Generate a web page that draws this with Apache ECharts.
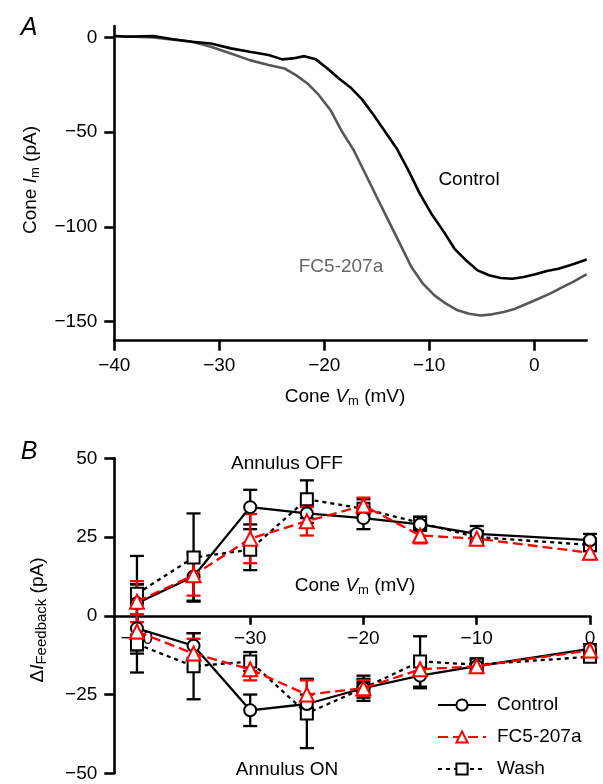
<!DOCTYPE html>
<html>
<head>
<meta charset="utf-8">
<script src="https://cdn.jsdelivr.net/npm/echarts@6/dist/echarts.min.js"></script>
<style>
html,body{margin:0;padding:0;background:#fff;}
#c{width:603px;height:784px;}
</style>
</head>
<body>
<div id="c"></div>
<script>
// ---------- Panel A data (Cone Im vs Cone Vm) ----------
const ctrlV = [-40,-38.8,-36.3,-34.4,-32.6,-30.8,-28.9,-27.1,-25.3,-24,-23,-21.9,-20.8,-19.7,-18.6,-17.5,-16.4,-15.3,-14.2,-13.1,-12,-10.9,-9.8,-8.7,-7.6,-6.5,-5.4,-4.3,-3.2,-2.1,-1,0.1,1.2,2.3,3.4,4.8,5];
const ctrlI = [0.7,0.3,0.7,-1,-2.3,-3.2,-5.8,-7.6,-9.3,-11.6,-11.1,-9.9,-11.6,-16.4,-21.7,-26.4,-32.7,-41,-49.8,-58.6,-70,-82.4,-93,-101.8,-111.4,-117.6,-122.9,-125.5,-126.9,-127.3,-126.4,-125,-123.2,-122,-120.2,-117.6,-117];
const fcV = [-40,-36.3,-32.6,-30.8,-28.9,-27.1,-25.3,-23.8,-22.7,-21.6,-20.5,-19.4,-18.3,-17.2,-16.1,-15,-13.9,-12.8,-11.7,-10.6,-9.5,-8.4,-7.3,-6.2,-5.1,-4,-2.9,-1.8,-0.7,0.4,1.5,2.6,3.7,4.8,5];
const fcI = [0.7,0,-2.3,-4.9,-8.5,-12,-14.6,-16.4,-19.9,-24.3,-30.5,-38.4,-49.8,-59.5,-71.8,-84.2,-96.5,-108.8,-121.1,-129.9,-136.1,-140.5,-144,-145.8,-146.7,-146.1,-144.9,-143.1,-140.5,-137.9,-135.2,-132,-129,-125.5,-125];
const aXTicks = [-40,-30,-20,-10,0];
const aYTicks = [0,-50,-100,-150];

// ---------- Panel B data (ΔI Feedback vs Cone Vm) ----------
const bV = [-40,-35,-30,-25,-20,-15,-10,0];
const ctrlOff    = [4,12.5,34.5,32.5,31,29,26,24];
const ctrlOffErr = [15,7.7,5.5,3,3.5,2,2.5,2];
const fcOff      = [4.5,12.9,24.5,30,35,25.5,24.5,20];
const fcOffErr   = [6.5,6.5,7.8,4.5,2.5,2.5,2,2];
const washOff    = [7,18.5,21,37,34,29.5,25,22.5];
const washOffErr = [3,14,6.5,6,3,2,2,2];
const ctrlOn     = [-4,-9.5,-30,-28,-23,-19,-16,-10.5];
const ctrlOnErr  = [14,4,5,3,4,4,2,1.5];
const fcOn       = [-5,-12,-17,-25,-23,-17,-16,-11];
const fcOnErr    = [5.5,4.7,3.5,4.5,2.5,2,1.5,1.5];
const washOn     = [-9,-16,-14.5,-31,-23,-14.5,-15.5,-13];
const washOnErr  = [3,10.5,3,11,3,8,2,1.5];
const bXTicks = [-40,-30,-20,-10,0];

const FONT = '"Liberation Sans", Arial, Helvetica, sans-serif';
const RED = '#ff0000';
const fmt = v => String(v).replace('-', '\u2212');
const zip = (a, b) => a.map((v, i) => [v, b[i]]);

function errSeries(vals, errs, color) {
  return {
    type: 'custom', xAxisIndex: 1, yAxisIndex: 1, silent: true, z: 2,
    encode: {x: 0, y: [1, 2]},
    data: bV.map((v, i) => [v, vals[i] - errs[i], vals[i] + errs[i]]),
    renderItem: function (params, api) {
      const x = api.value(0);
      const top = api.coord([x, api.value(2)]);
      const bot = api.coord([x, api.value(1)]);
      const hw = 7;
      const st = {stroke: color, lineWidth: 2.3};
      return {type: 'group', children: [
        {type: 'line', shape: {x1: top[0], y1: top[1], x2: bot[0], y2: bot[1]}, style: st},
        {type: 'line', shape: {x1: top[0] - hw, y1: top[1], x2: top[0] + hw, y2: top[1]}, style: st},
        {type: 'line', shape: {x1: bot[0] - hw, y1: bot[1], x2: bot[0] + hw, y2: bot[1]}, style: st}
      ]};
    }
  };
}
function lineSeries(name, vals, color, dash, symbol, size, z) {
  return {
    name: name, type: 'line', xAxisIndex: 1, yAxisIndex: 1, z: z,
    data: zip(bV, vals),
    symbol: symbol, symbolSize: size,
    lineStyle: {color: color, width: 2.3, type: dash},
    itemStyle: {color: color, borderWidth: 2.3, borderColor: color}
  };
}

const chart = echarts.init(document.getElementById('c'), null, {renderer: 'canvas'});

// panel B grid geometry: y from -50..50 over 315 px; zero line sits 157.5 px above the bottom
const B_TOP = 458.3, B_H = 315;

const option = {
  animation: false,
  backgroundColor: '#fff',
  grid: [
    {left: 114.3, right: 16.3, top: 26, height: 314.7},
    {left: 114.3, right: 13, top: B_TOP, height: B_H}
  ],
  xAxis: [
    {gridIndex: 0, type: 'value', min: -40, max: 5, position: 'bottom',
     axisLine: {onZero: false, lineStyle: {color: '#000', width: 2.6}},
     axisTick: {length: 10, lineStyle: {color: '#000', width: 2.6}, customValues: aXTicks},
     axisLabel: {color: '#000', fontSize: 19, fontFamily: FONT, formatter: fmt, margin: 16, customValues: aXTicks},
     splitLine: {show: false}},
    {gridIndex: 1, type: 'value', min: -42, max: 0, position: 'bottom', offset: -B_H / 2,
     axisLine: {onZero: false, lineStyle: {color: '#000', width: 2.6}},
     axisTick: {length: 9, lineStyle: {color: '#000', width: 2.6}, customValues: bXTicks},
     axisLabel: {color: '#000', fontSize: 19, fontFamily: FONT, formatter: fmt, margin: 13, customValues: bXTicks},
     splitLine: {show: false}}
  ],
  yAxis: [
    {gridIndex: 0, type: 'value', min: -160, max: 6,
     axisLine: {onZero: false, lineStyle: {color: '#000', width: 2.6}},
     axisTick: {length: 10, lineStyle: {color: '#000', width: 2.6}, customValues: aYTicks},
     axisLabel: {color: '#000', fontSize: 19, fontFamily: FONT, formatter: fmt, margin: 17, customValues: aYTicks},
     splitLine: {show: false}},
    {gridIndex: 1, type: 'value', min: -50, max: 50, interval: 25,
     axisLine: {show: true, onZero: false, lineStyle: {color: '#000', width: 2.6}},
     axisTick: {show: true, length: 10, lineStyle: {color: '#000', width: 2.6}},
     axisLabel: {color: '#000', fontSize: 19, fontFamily: FONT, formatter: fmt, margin: 17},
     splitLine: {show: false}}
  ],
  legend: {
    orient: 'vertical', left: 437, top: 695, padding: 0,
    itemWidth: 48, itemHeight: 14, itemGap: 12,
    data: ['Control', 'FC5-207a', 'Wash'],
    textStyle: {color: '#000', fontSize: 19, fontFamily: FONT, lineHeight: 20, padding: [0, 0, 0, 6]}
  },
  series: [
    {type: 'line', xAxisIndex: 0, yAxisIndex: 0, data: zip(fcV, fcI), showSymbol: false,
     lineStyle: {color: '#575757', width: 2.6}, silent: true},
    {type: 'line', xAxisIndex: 0, yAxisIndex: 0, data: zip(ctrlV, ctrlI), showSymbol: false,
     lineStyle: {color: '#000', width: 2.6}, silent: true},

    errSeries(washOff, washOffErr, '#000'),
    errSeries(washOn, washOnErr, '#000'),
    errSeries(ctrlOff, ctrlOffErr, '#000'),
    errSeries(ctrlOn, ctrlOnErr, '#000'),
    errSeries(fcOff, fcOffErr, RED),
    errSeries(fcOn, fcOnErr, RED),

    lineSeries('Wash', washOff, '#000', [4, 4], 'emptyRect', 12, 3),
    lineSeries('Wash', washOn, '#000', [4, 4], 'emptyRect', 12, 3),
    lineSeries('Control', ctrlOff, '#000', 'solid', 'emptyCircle', 12, 4),
    lineSeries('Control', ctrlOn, '#000', 'solid', 'emptyCircle', 12, 4),
    lineSeries('FC5-207a', fcOff, RED, [10, 5], 'emptyTriangle', 14, 5),
    lineSeries('FC5-207a', fcOn, RED, [10, 5], 'emptyTriangle', 14, 5)
  ],
  graphic: [
    {type: 'text', x: 29, y: 28, style: {text: 'A', fontSize: 25, fontStyle: 'italic', fontFamily: FONT, fill: '#000', align: 'center', verticalAlign: 'middle'}},
    {type: 'text', x: 29, y: 452, style: {text: 'B', fontSize: 25, fontStyle: 'italic', fontFamily: FONT, fill: '#000', align: 'center', verticalAlign: 'middle'}},
    {type: 'text', x: 345, y: 397, style: {
      text: '{n|Cone }{i|V}{s|m}{n| (mV)}', align: 'center', verticalAlign: 'middle',
      rich: {n: {fontSize: 19, fontFamily: FONT, fill: '#000', lineHeight: 22},
             i: {fontSize: 19, fontFamily: FONT, fontStyle: 'italic', fill: '#000', lineHeight: 22},
             s: {fontSize: 13, fontFamily: FONT, fill: '#000', lineHeight: 22, verticalAlign: 'bottom', padding: [10, 0, 0, 0]}}}},
    {type: 'text', x: 31, y: 180, rotation: Math.PI / 2, style: {
      text: '{n|Cone }{i|I}{s|m}{n| (pA)}', align: 'center', verticalAlign: 'middle',
      rich: {n: {fontSize: 19, fontFamily: FONT, fill: '#000', lineHeight: 22},
             i: {fontSize: 19, fontFamily: FONT, fontStyle: 'italic', fill: '#000', lineHeight: 22},
             s: {fontSize: 13, fontFamily: FONT, fill: '#000', lineHeight: 22, verticalAlign: 'bottom', padding: [10, 0, 0, 0]}}}},
    {type: 'text', x: 38, y: 620, rotation: Math.PI / 2, style: {
      text: '{n|\u0394}{i|I}{s|Feedback}{n| (pA)}', align: 'center', verticalAlign: 'middle',
      rich: {n: {fontSize: 19, fontFamily: FONT, fill: '#000', lineHeight: 22},
             i: {fontSize: 19, fontFamily: FONT, fontStyle: 'italic', fill: '#000', lineHeight: 22},
             s: {fontSize: 15, fontFamily: FONT, fill: '#000', lineHeight: 22, verticalAlign: 'bottom', padding: [10, 0, 0, 0]}}}},
    {type: 'text', x: 469, y: 180, style: {text: 'Control', fontSize: 19, fontFamily: FONT, fill: '#000', align: 'center', verticalAlign: 'middle'}},
    {type: 'text', x: 341, y: 267, style: {text: 'FC5-207a', fontSize: 19, fontFamily: FONT, fill: '#666', align: 'center', verticalAlign: 'middle'}},
    {type: 'text', x: 287, y: 464, style: {text: 'Annulus OFF', fontSize: 19, fontFamily: FONT, fill: '#000', align: 'center', verticalAlign: 'middle'}},
    {type: 'text', x: 287, y: 770, style: {text: 'Annulus ON', fontSize: 19, fontFamily: FONT, fill: '#000', align: 'center', verticalAlign: 'middle'}},
    {type: 'text', x: 355, y: 586, style: {
      text: '{n|Cone }{i|V}{s|m}{n| (mV)}', align: 'center', verticalAlign: 'middle',
      rich: {n: {fontSize: 19, fontFamily: FONT, fill: '#000', lineHeight: 22},
             i: {fontSize: 19, fontFamily: FONT, fontStyle: 'italic', fill: '#000', lineHeight: 22},
             s: {fontSize: 13, fontFamily: FONT, fill: '#000', lineHeight: 22, verticalAlign: 'bottom', padding: [10, 0, 0, 0]}}}}
  ]
};
chart.setOption(option);
</script>
</body>
</html>
